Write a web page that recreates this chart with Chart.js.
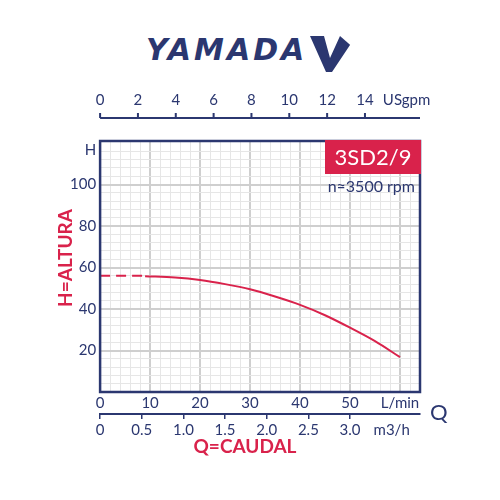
<!DOCTYPE html>
<html>
<head>
<meta charset="utf-8">
<script src="https://cdn.jsdelivr.net/npm/chart.js@4"></script>
<style>
  body { margin: 0; background: #fff; }
  #wrap { position: relative; width: 500px; height: 500px; }
  #logo { position: absolute; left: 146px; top: 32px; font: italic 900 30px 'DejaVu Sans', sans-serif;
          color: #2b3770; letter-spacing: 3px; }
  canvas { position: absolute; left: 0; top: 0; }
</style>
</head>
<body>
<div id="wrap">
  <div id="logo">YAMADA</div>
  <svg style="position:absolute;left:306px;top:34px" width="52" height="40">
    <polygon points="4,2 18,2 24,24 34,2 50,2 26,38 20,38" fill="#2b3770"/>
    <polygon points="34,2 50,2 50,16" fill="#fff"/>
  </svg>
  <canvas id="c" width="500" height="500"></canvas>
</div>
<script>
// 곡선 데이터 (L/min, m)
const flowDashed = [0, 9];
const headDashed = [56, 56];
const flow = [9, 15, 20, 25, 30, 35, 40, 45, 50, 55, 60];
const head = [55.8, 55.2, 54, 52, 49.5, 46, 42, 37, 31, 24.5, 16.8];

const gpmTicks = [0, 2, 4, 6, 8, 10, 12, 14];
const m3hTicks = [0, 0.5, 1.0, 1.5, 2.0, 2.5, 3.0];
const lminTicks = [0, 10, 20, 30, 40, 50];
const headTicks = [20, 40, 60, 80, 100];

const NAVY = '#2b3770';
const RED = '#d9224b';
const X_MAX = 64;
const Y_MAX = 121;
const GPM = 3.785;

const font = { family: 'Lato, sans-serif', size: 15 };

const frame = {
  id: 'frame',
  afterDraw(chart) {
    const { ctx, chartArea: a } = chart;
    ctx.save();
    ctx.strokeStyle = NAVY;
    ctx.lineWidth = 2.5;
    ctx.strokeRect(a.left, a.top, a.right - a.left, a.bottom - a.top);

    // 상단 USgpm 축
    const top = chart.scales.gpm;
    const ly = a.top - 23;
    ctx.lineWidth = 2;
    ctx.beginPath();
    ctx.moveTo(a.left, ly); ctx.lineTo(a.right, ly);
    gpmTicks.forEach(v => {
      const px = top.getPixelForValue(v);
      ctx.moveTo(px, ly); ctx.lineTo(px, ly - 5);
    });
    ctx.stroke();

    // 모델 배지
    ctx.fillStyle = RED;
    ctx.fillRect(a.right - 95, a.top - 1, 96, 34);
    ctx.fillStyle = '#fff';
    ctx.font = '22px Lato, sans-serif';
    ctx.textAlign = 'center';
    ctx.textBaseline = 'middle';
    ctx.fillText('3SD2/9', a.right - 47, a.top + 17);
    ctx.fillStyle = NAVY;
    ctx.font = '16px Lato, sans-serif';
    ctx.textAlign = 'right';
    ctx.fillText('n≈3500 rpm', a.right - 5, a.top + 46);

    ctx.font = '22px Lato, sans-serif';
    ctx.textAlign = 'left';
    ctx.fillText('Q', a.right + 10, a.bottom + 21);

    ctx.fillStyle = RED;
    ctx.font = 'bold 19px Lato, sans-serif';
    ctx.textAlign = 'center';
    ctx.fillText('Q=CAUDAL', 245, a.bottom + 55);
    ctx.translate(66, 258);
    ctx.rotate(-Math.PI / 2);
    ctx.fillText('H=ALTURA', 0, 0);
    ctx.restore();
  }
};

new Chart(document.getElementById('c'), {
  type: 'scatter',
  data: {
    datasets: [
      {
        data: flowDashed.map((x, i) => ({ x, y: headDashed[i] })),
        showLine: true, borderColor: RED, borderWidth: 2, borderDash: [10, 6], pointRadius: 0
      },
      {
        data: flow.map((x, i) => ({ x, y: head[i] })),
        showLine: true, borderColor: RED, borderWidth: 2, cubicInterpolationMode: 'monotone', pointRadius: 0
      }
    ]
  },
  options: {
    responsive: false,
    animation: false,
    layout: { padding: { left: 66, right: 80, top: 67, bottom: 59 } },
    plugins: { legend: { display: false }, tooltip: { enabled: false } },
    scales: {
      x: {
        type: 'linear', position: 'bottom', min: 0, max: X_MAX,
        afterBuildTicks: s => { s.ticks = []; for (let v = 0; v <= 62; v += 2) s.ticks.push({ value: v }); },
        ticks: {
          color: NAVY, font, padding: 2, maxRotation: 0, autoSkip: false,
          callback: v => v === 60 ? 'L/min' : (v % 10 === 0 && v <= 50 ? v : '')
        },
        grid: {
          color: c => c.tick && c.tick.value % 10 === 0 ? '#cfcfcf' : '#e6e6e6',
          lineWidth: c => c.tick && c.tick.value % 10 === 0 ? 2 : 1,
          tickLength: 0
        },
        border: { display: false }
      },
      m3h: {
        type: 'linear', position: 'bottom', min: 0, max: X_MAX * 0.06,
        afterBuildTicks: s => { s.ticks = [...m3hTicks, 3.5].map(v => ({ value: v })); },
        ticks: {
          color: NAVY, font, padding: 2, maxRotation: 0, autoSkip: false,
          callback: v => v === 3.5 ? 'm3/h' : v.toFixed(v === 0 ? 0 : 1)
        },
        grid: { drawOnChartArea: false, color: NAVY, tickLength: 5,
                lineWidth: c => c.tick && c.tick.value === 3.5 ? 0 : 1.5 },
        border: { display: true, color: NAVY, width: 2 }
      },
      gpm: {
        type: 'linear', position: 'top', min: 0, max: X_MAX / GPM,
        afterBuildTicks: s => { s.ticks = [...gpmTicks, 16.2].map(v => ({ value: v })); },
        ticks: {
          color: NAVY, font, padding: 24, maxRotation: 0, autoSkip: false,
          callback: v => v === 16.2 ? 'USgpm' : v
        },
        grid: { display: false },
        border: { display: false }
      },
      y: {
        min: 0, max: Y_MAX,
        afterBuildTicks: s => { s.ticks = []; for (let v = 4; v <= 116; v += 4) s.ticks.push({ value: v }); s.ticks.push({ value: 116.5 }); },
        ticks: {
          color: NAVY, font, padding: 4, autoSkip: false,
          callback: v => v === 116.5 ? 'H' : (headTicks.includes(v) ? v : '')
        },
        grid: {
          color: c => c.tick && c.tick.value === 116.5 ? 'rgba(0,0,0,0)' : (c.tick && c.tick.value % 20 === 0 ? '#cfcfcf' : '#e6e6e6'),
          lineWidth: c => c.tick && c.tick.value % 20 === 0 ? 2 : 1,
          tickLength: 0
        },
        border: { display: false }
      }
    }
  },
  plugins: [frame]
});
</script>
</body>
</html>
